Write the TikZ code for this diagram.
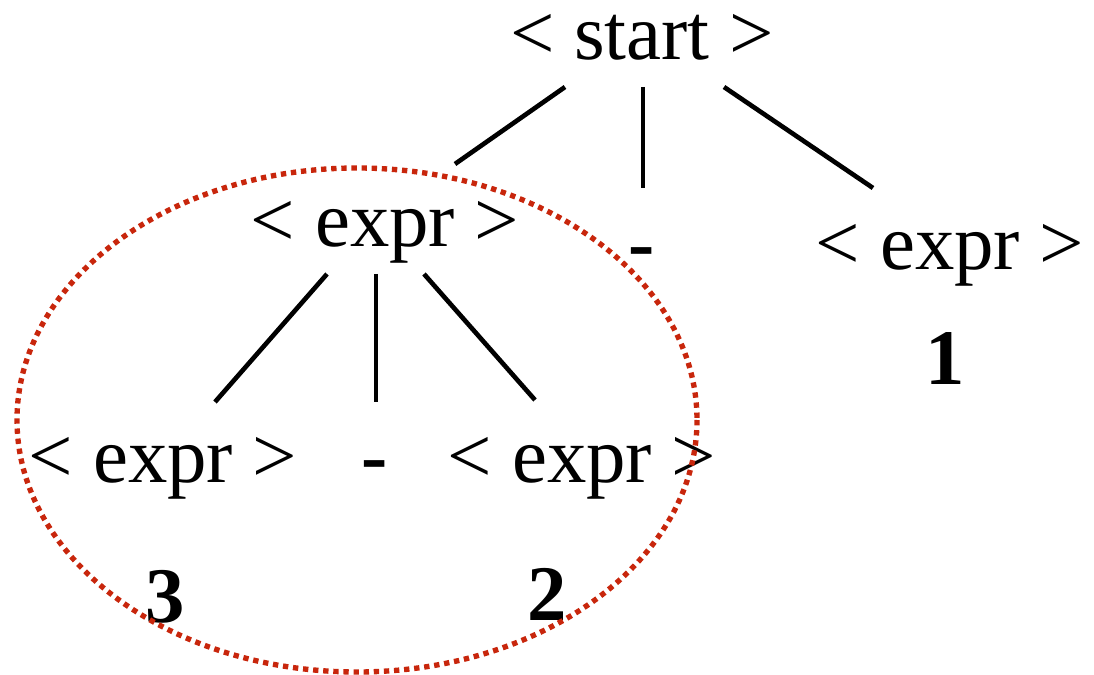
\documentclass[tikz,border=0pt]{standalone}
\usepackage{fontspec}
\setmainfont{Liberation Serif}
\usepackage{xcolor}
\usetikzlibrary{calc}
\definecolor{groupRed}{HTML}{C8260C}

\begin{document}
\begin{tikzpicture}[
    x=0.025cm, y=-0.025cm,
    sym/.style={anchor=base, inner sep=0pt, font=\fontsize{56}{60}\selectfont},
    term/.style={sym, font=\fontsize{56}{60}\selectfont\bfseries},
    edge/.style={line width=3.3pt},
    group/.style={groupRed, line width=3.8pt, dash pattern=on 3.8pt off 3.4pt},
]
    \useasboundingbox (0,0) rectangle (1094,675);

    % Top level
    \node[sym] (start) at (642,60) {< start >};

    % Second level
    \node[sym] (lexpr) at (385,247) {< expr >};
    \node[term] (topminus) at (642,270) {-};
    \node[sym] (rexpr) at (950,270) {< expr >};
    \node[term] (one) at (945,385) {1};

    % Third level
    \node[sym] (lchild) at (163,483) {< expr >};
    \node[term] (lminus) at (375,483) {-};
    \node[sym] (rchild) at (582,483) {< expr >};
    \node[term] (three) at (165,622) {3};
    \node[term] (two) at (547,620) {2};

    % Edges
    \draw[edge] ($(start.base)+(-77,27)$) -- ($(lexpr.base)+(70,-83)$);
    \draw[edge] ($(start.base)+(1,27)$) -- ($(topminus.base)+(1,-82)$);
    \draw[edge] ($(start.base)+(82,27)$) -- ($(rexpr.base)+(-77,-82)$);
    \draw[edge] ($(lexpr.base)+(-58,27)$) -- ($(lchild.base)+(52,-81)$);
    \draw[edge] ($(lexpr.base)+(-9,27)$) -- ($(lminus.base)+(1,-81)$);
    \draw[edge] ($(lexpr.base)+(39,27)$) -- ($(rchild.base)+(-47,-83)$);

    % Subtree marker
    \draw[group] (357,420) ellipse [x radius=340, y radius=252];
\end{tikzpicture}
\end{document}
